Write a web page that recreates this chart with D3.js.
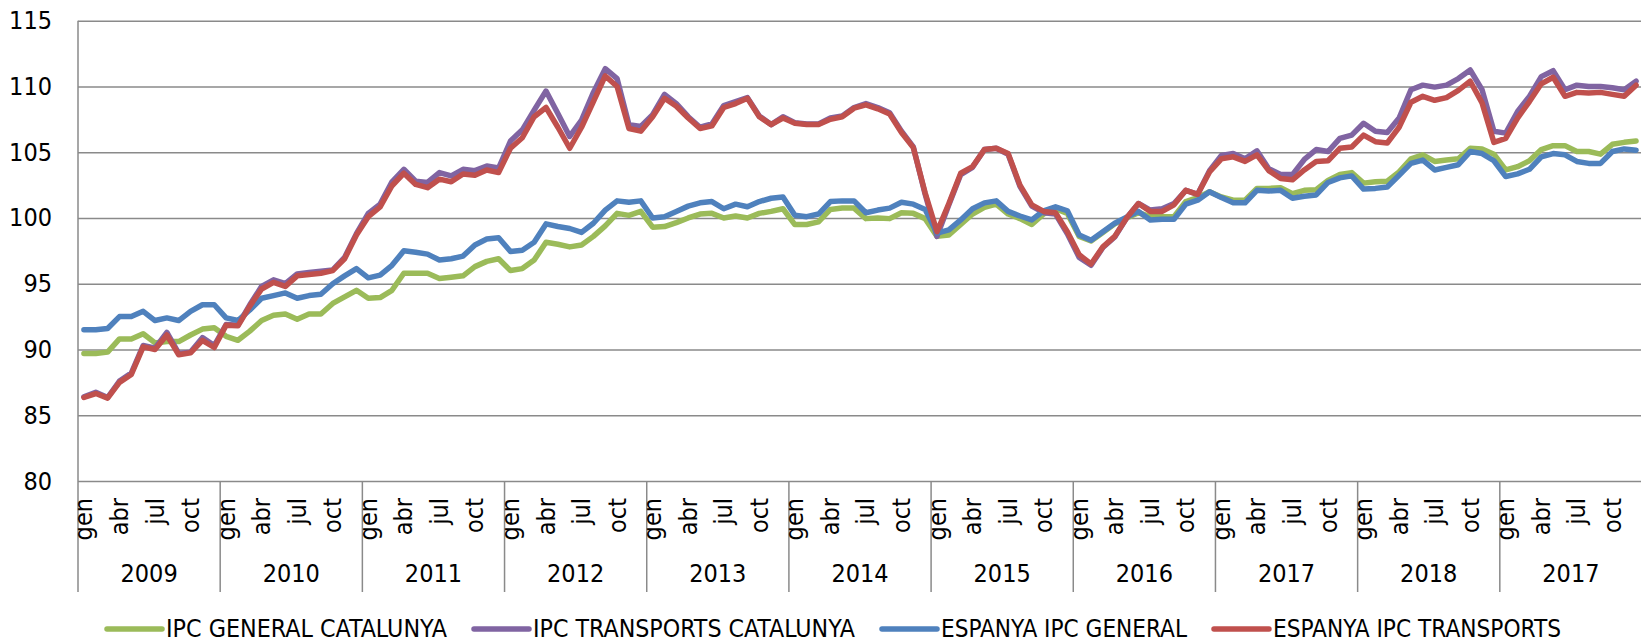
<!DOCTYPE html>
<html lang="ca">
<head>
	<meta charset="utf-8">
	<title> IPC Catalunya / Espanya </title>
	<script type="text/javascript" src="https://cdn.jsdelivr.net/npm/d3@7"></script>
	<style type="text/css">
		body { margin: 0; background: white; }
		text { font-family: "Liberation Sans Narrow", "DejaVu Sans Condensed", sans-serif; fill: #000; }
	</style>
</head>
<body>
	<script type="text/javascript">

// DATA
		var years = ["2009", "2010", "2011", "2012", "2013", "2014", "2015", "2016", "2017", "2018", "2017"];
		var months = ["gen", "feb", "mar", "abr", "mai", "jun", "jul", "ago", "set", "oct", "nov", "des"];
		var shownMonths = ["gen", "abr", "jul", "oct"];
		var yTicks = [80, 85, 90, 95, 100, 105, 110, 115];

		var ipcGeneralCat = [
			89.7, 89.7, 89.8, 90.8, 90.8, 91.2, 90.5, 90.6, 90.6, 91.1, 91.55, 91.65,
			91.0, 90.7, 91.4, 92.2, 92.6, 92.7, 92.3, 92.7, 92.7, 93.5, 94.0, 94.5,
			93.9, 93.95, 94.5, 95.8, 95.8, 95.8, 95.4, 95.5, 95.6, 96.3, 96.7, 96.9,
			96.0, 96.15, 96.8, 98.15, 98.0, 97.8, 97.95, 98.6, 99.4, 100.35, 100.2, 100.5,
			99.3, 99.35, 99.65, 100.0, 100.3, 100.35, 100.0, 100.15, 100.0, 100.35, 100.5, 100.7,
			99.5, 99.5, 99.7, 100.65, 100.75, 100.75, 99.95, 100.0, 99.95, 100.4, 100.35, 99.95,
			98.6, 98.7, 99.5, 100.3, 100.8, 101.05, 100.3, 99.95, 99.5, 100.3, 100.7, 100.35,
			98.6, 98.25, 98.9, 99.55, 100.0, 100.4, 100.1, 100.1, 100.1, 101.25, 101.55, 102.0,
			101.6, 101.35, 101.35, 102.25, 102.25, 102.3, 101.85, 102.1, 102.15, 102.85, 103.3, 103.45,
			102.65, 102.75, 102.8, 103.5, 104.5, 104.8, 104.3, 104.4, 104.5, 105.3, 105.25, 104.85,
			103.65, 103.9, 104.35, 105.2, 105.5, 105.5, 105.05, 105.05, 104.85, 105.6, 105.75, 105.85
		];
		var ipcTransportsCat = [
			86.4, 86.75, 86.35, 87.6, 88.2, 90.3, 90.1, 91.3, 89.7, 89.8, 90.9, 90.3,
			91.9, 91.85, 93.4, 94.8, 95.3, 95.0, 95.75, 95.85, 95.95, 96.05, 97.0, 98.8,
			100.35, 101.05, 102.75, 103.7, 102.8, 102.7, 103.45, 103.2, 103.7, 103.6, 103.95, 103.8,
			105.85, 106.7, 108.2, 109.65, 107.95, 106.2, 107.45, 109.55, 111.35, 110.6, 107.1, 106.95,
			107.85, 109.4, 108.7, 107.7, 106.9, 107.15, 108.55, 108.85, 109.15, 107.75, 107.1, 107.7,
			107.25, 107.15, 107.15, 107.6, 107.75, 108.4, 108.7, 108.4, 108.0, 106.6, 105.4, 101.8,
			98.6, 101.0, 103.3, 103.85, 105.2, 105.3, 104.85, 102.4, 100.9, 100.4, 100.3, 98.8,
			97.0, 96.4, 97.75, 98.55, 100.0, 101.1, 100.6, 100.7, 101.1, 102.1, 101.8, 103.6,
			104.75, 104.9, 104.5, 105.1, 103.75, 103.3, 103.3, 104.45, 105.2, 105.05, 106.05, 106.3,
			107.2, 106.6, 106.5, 107.6, 109.75, 110.1, 109.95, 110.1, 110.6, 111.25, 109.75, 106.6,
			106.45, 108.1, 109.25, 110.75, 111.2, 109.75, 110.1, 110.0, 110.0, 109.9, 109.75, 110.4
		];
		var espanyaGeneral = [
			91.5, 91.5, 91.6, 92.5, 92.5, 92.9, 92.2, 92.4, 92.2, 92.9, 93.4, 93.4,
			92.4, 92.2, 93.0, 93.9, 94.1, 94.3, 93.9, 94.1, 94.2, 95.0, 95.6, 96.15,
			95.45, 95.65, 96.4, 97.5, 97.4, 97.25, 96.8, 96.9, 97.1, 97.95, 98.4, 98.5,
			97.45, 97.55, 98.15, 99.55, 99.35, 99.2, 98.9, 99.6, 100.6, 101.3, 101.2, 101.3,
			100.0, 100.1, 100.5, 100.9, 101.15, 101.25, 100.7, 101.05, 100.85, 101.25, 101.5, 101.6,
			100.2, 100.1, 100.3, 101.25, 101.3, 101.3, 100.4, 100.6, 100.75, 101.2, 101.05, 100.65,
			98.85, 99.1, 99.85, 100.7, 101.15, 101.3, 100.5, 100.15, 99.85, 100.55, 100.85, 100.55,
			98.7, 98.3, 98.95, 99.6, 100.05, 100.5, 99.85, 99.9, 99.9, 101.05, 101.35, 102.0,
			101.55, 101.15, 101.15, 102.1, 102.05, 102.1, 101.5, 101.65, 101.75, 102.7, 103.05, 103.2,
			102.2, 102.25, 102.35, 103.25, 104.15, 104.4, 103.65, 103.85, 104.05, 105.05, 104.9, 104.35,
			103.15, 103.35, 103.7, 104.65, 104.9, 104.8, 104.3, 104.15, 104.15, 105.05, 105.25, 105.15
		];
		var espanyaTransports = [
			86.35, 86.65, 86.3, 87.5, 88.1, 90.2, 90.0, 91.1, 89.6, 89.75, 90.7, 90.15,
			91.85, 91.8, 93.3, 94.6, 95.1, 94.8, 95.6, 95.7, 95.8, 96.0, 96.9, 98.7,
			100.1, 100.85, 102.45, 103.4, 102.55, 102.3, 102.95, 102.75, 103.35, 103.25, 103.65, 103.45,
			105.3, 106.1, 107.7, 108.4, 106.9, 105.3, 106.9, 108.85, 110.8, 110.0, 106.8, 106.6,
			107.7, 109.1, 108.5, 107.6, 106.8, 107.0, 108.4, 108.7, 109.1, 107.7, 107.1, 107.6,
			107.2, 107.1, 107.1, 107.5, 107.7, 108.35, 108.6, 108.3, 107.9, 106.5, 105.35, 101.9,
			98.95, 101.1, 103.4, 103.9, 105.2, 105.3, 104.9, 102.5, 101.0, 100.5, 100.4, 98.95,
			97.2, 96.5, 97.8, 98.6, 100.0, 101.1, 100.5, 100.5, 101.0, 102.1, 101.8, 103.5,
			104.5, 104.65, 104.3, 104.8, 103.6, 103.0, 102.9, 103.65, 104.3, 104.35, 105.3, 105.4,
			106.3, 105.8, 105.7, 106.9, 108.8, 109.25, 108.95, 109.15, 109.7, 110.4, 108.75, 105.75,
			106.05, 107.6, 108.85, 110.2, 110.7, 109.25, 109.55, 109.5, 109.55, 109.4, 109.25, 110.1
		];

		var series = [
			{ name: "IPC GENERAL CATALUNYA", color: "#9BBB59", values: ipcGeneralCat },
			{ name: "IPC TRANSPORTS CATALUNYA", color: "#8064A2", values: ipcTransportsCat },
			{ name: "ESPANYA IPC GENERAL", color: "#4F81BD", values: espanyaGeneral },
			{ name: "ESPANYA IPC TRANSPORTS", color: "#C0504D", values: espanyaTransports }
		];

// SIZES
		var w = 1641;
		var h = 639;
		var plotLeft = 78, plotRight = 1642, plotTop = 20.7, plotBottom = 481;
		var axisBottom = 592;
		var gridColor = "#8a8a8a";
		var fontSize = "25px";
		// legend label widths (the original font is narrower than ours)
		var legendWidths = [281, 322, 246, 288];

		// one category per month
		var cats = [];
		years.forEach(function(yr, yi) {
			months.forEach(function(m, mi) { cats.push({ year: yr, yi: yi, month: m, idx: yi * 12 + mi }); });
		});

		var x = d3.scaleBand()
			.domain(cats.map(function(d) { return d.idx; }))
			.range([plotLeft, plotRight]);
		var xc = function(i) { return x(i) + x.bandwidth() / 2; };

		var yearScale = d3.scaleBand()
			.domain(d3.range(years.length))
			.range([plotLeft, plotRight]);

		var y = d3.scaleLinear()
			.domain([80, 115])
			.range([plotBottom, plotTop]);

// CREATE SVG ELEMENT!
		var svg = d3.select("body")
			.append("svg")
			.attr("width", w)
			.attr("height", h);

		svg.append("rect").attr("width", w).attr("height", h).attr("fill", "white");

// GRIDLINES + Y LABELS
		var yAxis = svg.append("g")
			.attr("transform", "translate(" + plotLeft + ",0)")
			.call(d3.axisLeft(y).tickValues(yTicks).tickSize(-(plotRight - plotLeft)).tickPadding(26));
		yAxis.select(".domain").remove();
		yAxis.selectAll(".tick line")
			.attr("stroke", gridColor)
			.attr("stroke-width", 1.5);
		yAxis.selectAll(".tick text")
			.attr("font-size", fontSize)
			.attr("font-family", null)
			.attr("fill", "#000");

		// left axis line, running down through the label rows
		svg.append("line")
			.attr("x1", plotLeft).attr("x2", plotLeft)
			.attr("y1", plotTop).attr("y2", axisBottom)
			.attr("stroke", gridColor).attr("stroke-width", 1.5);

		// year separators
		svg.selectAll("line.sep")
			.data(d3.range(1, years.length))
			.enter()
			.append("line")
			.attr("class", "sep")
			.attr("x1", function(d) { return yearScale(d); })
			.attr("x2", function(d) { return yearScale(d); })
			.attr("y1", plotBottom)
			.attr("y2", axisBottom)
			.attr("stroke", gridColor)
			.attr("stroke-width", 1.5);

// MONTH LABELS (rotated)
		svg.selectAll("text.month")
			.data(cats.filter(function(d) { return shownMonths.indexOf(d.month) >= 0; }))
			.enter()
			.append("text")
			.attr("class", "month")
			.attr("transform", function(d) { return "translate(" + (xc(d.idx) + 8.5) + ",498) rotate(-90)"; })
			.attr("text-anchor", "end")
			.attr("font-size", fontSize)
			.text(function(d) { return d.month; });

// YEAR LABELS
		svg.selectAll("text.year")
			.data(years)
			.enter()
			.append("text")
			.attr("class", "year")
			.attr("x", function(d, i) { return yearScale(i) + yearScale.bandwidth() / 2; })
			.attr("y", 582)
			.attr("text-anchor", "middle")
			.attr("font-size", fontSize)
			.text(function(d) { return d; });

// LINES
		var line = d3.line()
			.x(function(d, i) { return xc(i); })
			.y(function(d) { return y(d); });

		svg.selectAll("path.serie")
			.data(series)
			.enter()
			.append("path")
			.attr("class", "serie")
			.attr("d", function(d) { return line(d.values); })
			.attr("fill", "none")
			.attr("stroke", function(d) { return d.color; })
			.attr("stroke-width", 5.5)
			.attr("stroke-linejoin", "round")
			.attr("stroke-linecap", "round");

// LEGEND
		var legend = svg.append("g");
		var lx = 107;
		series.forEach(function(s, i) {
			var g = legend.append("g");
			g.append("line")
				.attr("x1", lx).attr("x2", lx + 55)
				.attr("y1", 629).attr("y2", 629)
				.attr("stroke", s.color)
				.attr("stroke-width", 5.5)
				.attr("stroke-linecap", "round");
			g.append("text")
				.attr("x", lx + 59)
				.attr("y", 637)
				.attr("font-size", fontSize)
				.attr("textLength", legendWidths[i])
				.attr("lengthAdjust", "spacingAndGlyphs")
				.text(s.name);
			lx = lx + 59 + legendWidths[i] + 27;
		});

	</script>
</body>
</html>
